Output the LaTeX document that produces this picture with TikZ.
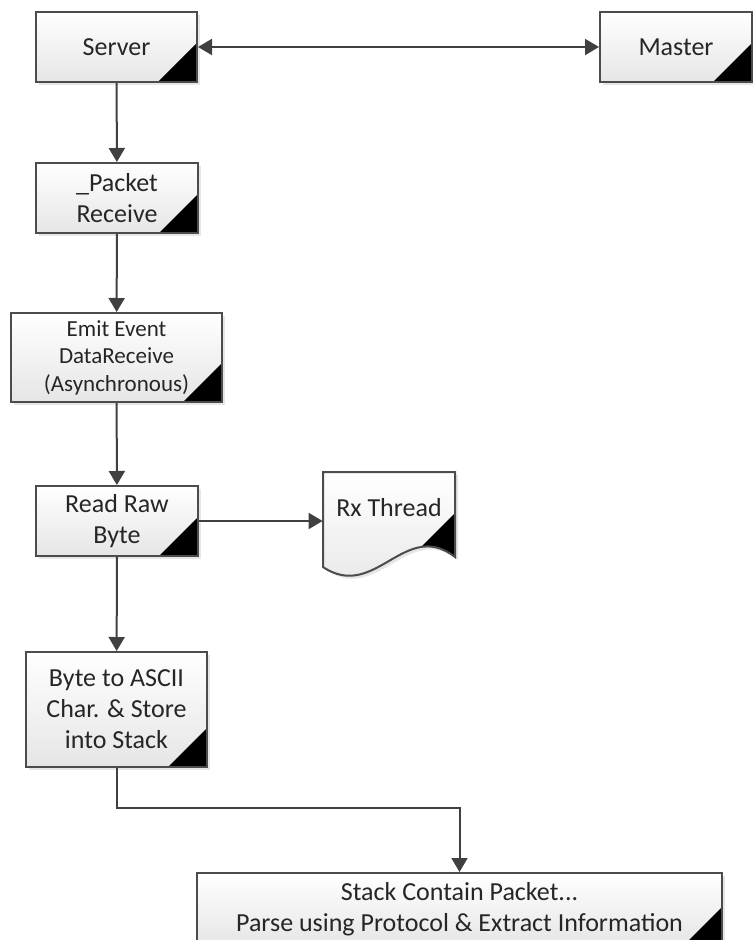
\documentclass[tikz,border=0pt]{standalone}
\usepackage{fontspec}
\setmainfont{Carlito}
\usetikzlibrary{arrows.meta,shadows}

\tikzset{
  block/.style={draw=black!70, line width=1pt, top color=white, bottom color=black!10,
    drop shadow={shadow xshift=1.5pt, shadow yshift=-1.5pt, opacity=0.2},
    align=center, text=black!85, inner sep=0pt,
    font=\fontsize{13}{15.5}\selectfont,
    path picture={\fill[black] (path picture bounding box.south east)
      -- ++(-19.5pt,0) -- ++(19.5pt,19.5pt) -- cycle;}},
  flow/.style={draw=black!75, line width=1pt, -{Triangle[length=7pt,width=8pt]}},
}

\begin{document}
\begin{tikzpicture}[x=0.5pt, y=-0.5pt]
%%%
\useasboundingbox (0,0) rectangle (753,940);

% document shape for the thread (drawn first, text on top)
\draw[draw=black!70, line width=1pt, top color=white, bottom color=black!10,
      drop shadow={shadow xshift=1.5pt, shadow yshift=-1.5pt, opacity=0.2},
      path picture={\fill[black] (455,513) -- (455,640) -- (328,640) -- cycle;}]
  (323,472) -- (455,472) -- (455,557) .. controls (405,518) and (375,602) .. (323,567) -- cycle;
\node[minimum width=66pt, minimum height=36pt, inner sep=0pt, text=black!85,
      font=\fontsize{13}{15.5}\selectfont] (rx) at (389,508) {Rx Thread};

% blocks
\node[block, minimum width=80.5pt, minimum height=35pt] (server) at (116.5,47) {Server};
\node[block, minimum width=76pt, minimum height=35pt] (master) at (676,47) {Master};
\node[block, minimum width=81pt, minimum height=35pt] (pktrecv) at (117,198) {\_Packet\\Receive};
\node[block, minimum width=105.5pt, minimum height=44.5pt,
      font=\fontsize{11.5}{13.75}\selectfont] (emit) at (116.5,357.5) {Emit Event\\DataReceive\\(Asynchronous)};
\node[block, minimum width=81pt, minimum height=35pt] (readraw) at (117,521) {Read Raw\\Byte};
\node[block, minimum width=90.5pt, minimum height=57.5pt] (toascii) at (116.5,709.5) {Byte to ASCII\\Char. \& Store\\into Stack};
\node[block, minimum width=262.5pt, minimum height=36.5pt] (parse) at (459.5,909.5) {Stack Contain Packet...\\Parse using Protocol \& Extract Information};

\coordinate (bend) at (116.5,808);

% arrows
\draw[flow, {Triangle[length=7pt,width=8pt]}-{Triangle[length=7pt,width=8pt]}] (server) -- (master);
\draw[flow] (server) -- (pktrecv);
\draw[flow] (pktrecv) -- (emit);
\draw[flow] (emit) -- (readraw);
\draw[flow] (readraw) -- (toascii);
\draw[flow] (readraw) -- (readraw -| rx.west);
\draw[flow] (toascii) -- (bend) -| (parse);
%%%
\end{tikzpicture}
\end{document}
